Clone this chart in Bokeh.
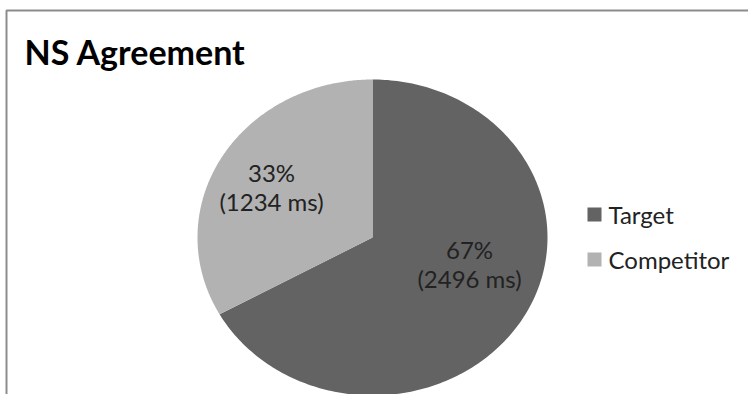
import numpy as np
from bokeh.plotting import figure
from bokeh.models import Range1d
from bokeh.core.properties import value
from bokeh.embed import file_html
from bokeh.resources import INLINE

title = "NS Agreement"
categories = ["Target", "Competitor"]
times_ms = [2496, 1234]
colors = ["#636363", "#b2b2b2"]

W, H = 748, 394
p = figure(width=W, height=H, output_backend="svg", toolbar_location=None,
           x_range=Range1d(0, W), y_range=Range1d(H, 0), min_border=0)
p.axis.visible = False
p.grid.visible = False
p.outline_line_color = None
p.background_fill_color = "white"
p.border_fill_color = "white"

# chart border (top and left visible)
p.quad(left=[6], right=[W + 20], top=[10], bottom=[H + 20],
       fill_color=None, line_color="#8c8c8c", line_width=2)

# title
p.text(x=[24], y=[51], text=[title], text_font=value("Lato"),
       text_font_style="bold", text_font_size="34px", text_color="#000000",
       text_baseline="middle", text_align="left")

# pie (slightly elliptical, as in the reference)
cx, cy, rx, ry = 372, 237, 175, 158
total = sum(times_ms)
fracs = [t / total for t in times_ms]
start = 0.0
xs, ys = [], []
for f in fracs:
    end = start + f * 2 * np.pi
    a = np.linspace(start, end, 240)
    xs.append(np.concatenate([[cx], cx + rx * np.sin(a), [cx]]))
    ys.append(np.concatenate([[cy], cy - ry * np.cos(a), [cy]]))
    start = end
p.patches(xs=xs, ys=ys, fill_color=colors, line_color=None)

labels = [f"{round(f * 100)}%" for f in fracs]
ms_labels = [f"({t} ms)" for t in times_ms]
lab_x = [469, 271]
lab_y = [249, 172]
p.text(x=lab_x, y=lab_y, text=labels, text_font=value("Lato"),
       text_font_size="24px", text_color="#222222",
       text_align="center", text_baseline="middle")
p.text(x=lab_x, y=[v + 29 for v in lab_y], text=ms_labels, text_font=value("Lato"),
       text_font_size="24px", text_color="#222222",
       text_align="center", text_baseline="middle")

# legend
leg_y = [214, 259]
p.scatter(x=[594, 594], y=leg_y, marker="square", size=14,
          fill_color=colors, line_color=None)
p.text(x=[608, 608], y=leg_y, text=categories, text_font=value("Lato"),
       text_font_size="24px", text_color="#222222",
       text_align="left", text_baseline="middle")

open("out.html", "w").write(file_html(p, INLINE))
